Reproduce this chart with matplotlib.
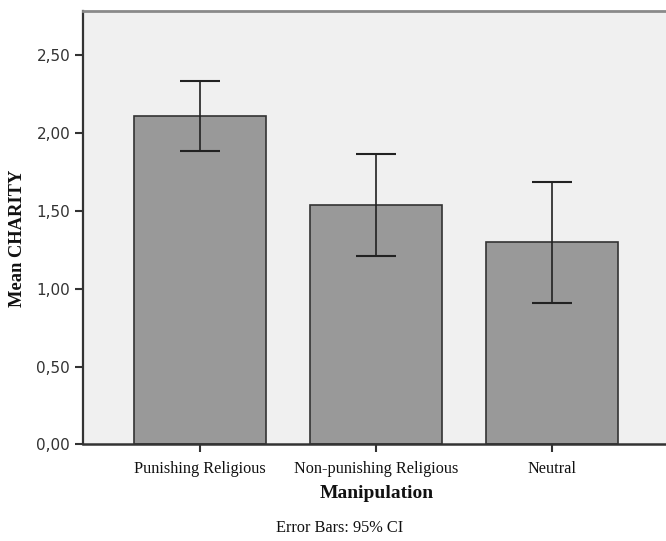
import matplotlib
matplotlib.use('Agg')
import matplotlib.pyplot as plt
import numpy as np

# Data
categories = ['Punishing Religious', 'Non-punishing Religious', 'Neutral']
means = [2.11, 1.535, 1.30]
ci_low = [1.883, 1.212, 0.908]
ci_high = [2.335, 1.864, 1.686]
yticks = [0.0, 0.5, 1.0, 1.5, 2.0, 2.5]
ytick_labels = ['0,00', '0,50', '1,00', '1,50', '2,00', '2,50']

x = np.arange(len(categories))
means = np.array(means)
yerr = [means - np.array(ci_low), np.array(ci_high) - means]

fig = plt.figure(figsize=(6.66, 5.41), dpi=100)
ax = fig.add_axes([0.1242, 0.1787, 0.8803, 0.801])
ax.set_facecolor('#f0f0f0')

ax.bar(x, means, width=0.75, color='#999999', edgecolor='#333333', linewidth=1.2, zorder=2)
ax.errorbar(x, means, yerr=yerr, fmt='none', ecolor='#222222', elinewidth=1.2,
            capsize=14.6, capthick=1.5, zorder=3)

ax.set_xlim(-2 / 3, 2 + 2 / 3)
ax.set_ylim(0, 2.785)

ax.set_yticks(yticks)
ax.set_yticklabels(ytick_labels, fontfamily='DejaVu Sans', fontsize=11, color='#333333')
ax.set_xticks(x)
ax.set_xticklabels(categories, fontfamily='Liberation Serif', fontsize=11.7, color='#111111')
ax.tick_params(axis='y', length=6, width=1.5, color='#333333', pad=3)
ax.tick_params(axis='x', length=6, width=1.5, color='#333333', pad=6)

ax.spines['right'].set_visible(False)
ax.spines['top'].set_color('#8a8a8a')
ax.spines['top'].set_linewidth(2)
ax.spines['left'].set_color('#333333')
ax.spines['left'].set_linewidth(1.6)
ax.spines['bottom'].set_color('#333333')
ax.spines['bottom'].set_linewidth(1.8)

fig.text(0.027, 0.56, 'Mean CHARITY', rotation=90, ha='center', va='center',
         fontfamily='Liberation Serif', fontweight='bold', fontsize=13.3, color='#111111')
fig.text(0.565, 1 - 494 / 541, 'Manipulation', ha='center', va='center',
         fontfamily='Liberation Serif', fontweight='bold', fontsize=14, color='#111111')
fig.text(0.51, 1 - 528 / 541, 'Error Bars: 95% CI', ha='center', va='center',
         fontfamily='Liberation Serif', fontsize=11.8, color='#111111')

fig.savefig('out.png', dpi=100)
